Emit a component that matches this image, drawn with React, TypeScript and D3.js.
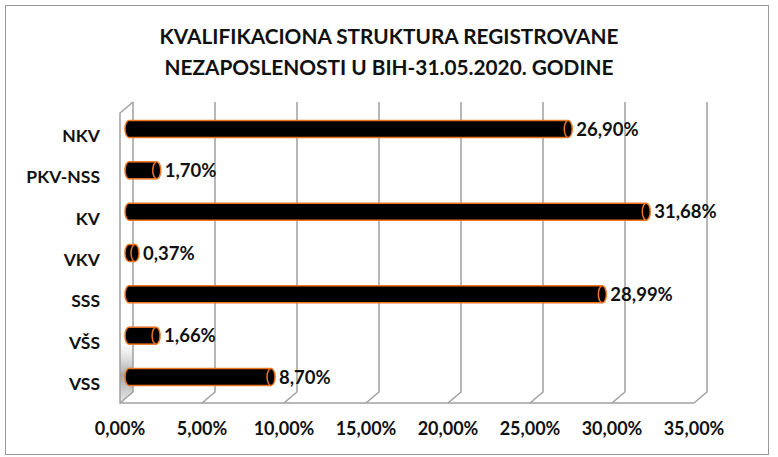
import React from "react";
import * as d3 from "d3";

const categories = ["NKV", "PKV-NSS", "KV", "VKV", "SSS", "VŠS", "VSS"];
const values = [26.9, 1.7, 31.68, 0.37, 28.99, 1.66, 8.7];
const valueLabels = ["26,90%", "1,70%", "31,68%", "0,37%", "28,99%", "1,66%", "8,70%"];
const ticks = [0, 5, 10, 15, 20, 25, 30, 35];
const tickLabels = ["0,00%", "5,00%", "10,00%", "15,00%", "20,00%", "25,00%", "30,00%", "35,00%"];
const titleLines = [
  "KVALIFIKACIONA STRUKTURA REGISTROVANE",
  "NEZAPOSLENOSTI U BIH-31.05.2020. GODINE",
];

const W = 778;
const H = 457;
const FONT = "Lato, 'Liberation Sans', sans-serif";

export default function App() {
  const xBack = d3.scaleLinear().domain([0, 35]).range([133, 707]);
  const xFront = d3.scaleLinear().domain([0, 35]).range([120, 694]);
  const xBar = d3.scaleLinear().domain([0, 35]).range([129, 700.5]);
  const y = d3.scalePoint<string>().domain(categories).range([129, 377]);

  const topBack = 102;
  const floorBack = 392;
  const floorFront = 403;
  const topFront = 113;
  const grid = "#a0a0a0";
  const orange = "#ee7420";
  const bh = 17;
  const rx = 4;

  return (
    <svg width={W} height={H} style={{ position: "absolute", left: 0, top: 0 }}>
      <defs>
        <linearGradient id="wallShade" x1="0" y1="0" x2="0" y2="1">
          <stop offset="0" stopColor="#ffffff" stopOpacity="0" />
          <stop offset="0.6" stopColor="#9a9a9a" stopOpacity="0.9" />
          <stop offset="1" stopColor="#d8d8d8" stopOpacity="0.6" />
        </linearGradient>
      </defs>
      <rect x={0} y={0} width={W} height={H} fill="#fff" />
      <rect x={5.5} y={5.5} width={763} height={449} fill="#fff" stroke="#999" strokeWidth={1} />

      {titleLines.map((t, i) => (
        <text
          key={i}
          x={389}
          y={44 + i * 31}
          textAnchor="middle"
          fontFamily={FONT}
          fontWeight="bold"
          fontSize={20.8}
          fill="#111"
        >
          {t}
        </text>
      ))}

      {/* left wall shade */}
      <polygon
        points={`120,345 133,334 133,${floorBack} 120,${floorFront}`}
        fill="url(#wallShade)"
      />

      {/* back gridlines with floor connectors */}
      {ticks.map((t) => (
        <path
          key={t}
          d={`M${xBack(t)},${topBack} L${xBack(t)},${floorBack} L${xFront(t)},${floorFront}`}
          fill="none"
          stroke={grid}
          strokeWidth={1.5}
        />
      ))}
      {/* left wall */}
      <path
        d={`M${xBack(0)},${topBack} L${xFront(0)},${topFront} L${xFront(0)},${floorFront} L${xFront(35)},${floorFront}`}
        fill="none"
        stroke={grid}
        strokeWidth={1.5}
      />

      {/* bars */}
      {categories.map((c, i) => {
        const cy = y(c) as number;
        const x0 = xBar(0);
        const x1 = xBar(values[i]);
        return (
          <g key={c}>
            <ellipse cx={x0} cy={cy} rx={rx} ry={bh / 2} fill="#000" stroke={orange} strokeWidth={1.5} />
            <rect x={x0} y={cy - bh / 2} width={x1 - x0} height={bh} fill="#000" />
            <line x1={x0} x2={x1} y1={cy - bh / 2} y2={cy - bh / 2} stroke={orange} strokeWidth={1.5} />
            <line x1={x0} x2={x1} y1={cy + bh / 2} y2={cy + bh / 2} stroke={orange} strokeWidth={1.5} />
            <ellipse cx={x1} cy={cy} rx={rx} ry={bh / 2} fill="#000" stroke={orange} strokeWidth={1.5} />
            <text
              x={x1 + rx + 4}
              y={cy + 6.5}
              fontFamily={FONT}
              fontWeight="bold"
              fontSize={18.5}
              fill="#111"
            >
              {valueLabels[i]}
            </text>
            <text
              x={100}
              y={cy + 13}
              textAnchor="end"
              fontFamily={FONT}
              fontWeight="bold"
              fontSize={17.5}
              fill="#111"
            >
              {c}
            </text>
          </g>
        );
      })}

      {/* x tick labels */}
      {ticks.map((t, i) => (
        <text
          key={t}
          x={xFront(t)}
          y={435}
          textAnchor="middle"
          fontFamily={FONT}
          fontWeight="bold"
          fontSize={18}
          fill="#111"
        >
          {tickLabels[i]}
        </text>
      ))}
    </svg>
  );
}
